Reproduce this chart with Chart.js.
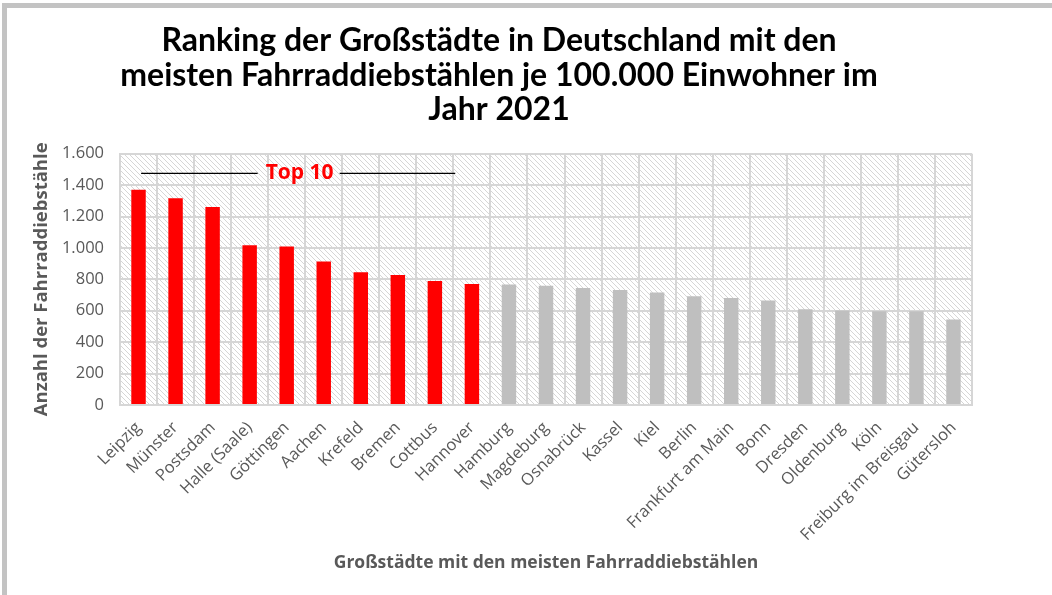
<!DOCTYPE html>
<html>
<head>
<meta charset="utf-8">
<script src="https://cdn.jsdelivr.net/npm/chart.js@4"></script>
<style>
  html, body { margin: 0; padding: 0; background: #fff; }
  #wrap { position: relative; width: 1052px; height: 595px; overflow: hidden; }
  #frame { position: absolute; left: 2px; top: 3px; width: 1100px; height: 587px; border: 5px solid #c3c3c3; border-right: none; box-sizing: content-box; }
  canvas { position: absolute; left: 0; top: 0; }
</style>
</head>
<body>
<div id="wrap">
  <div id="frame"></div>
  <canvas id="chart" width="1052" height="595"></canvas>
</div>
<script>
const cities = ["Leipzig", "Münster", "Postsdam", "Halle (Saale)", "Göttingen", "Aachen", "Krefeld", "Bremen", "Cottbus", "Hannover",
  "Hamburg", "Magdeburg", "Osnabrück", "Kassel", "Kiel", "Berlin", "Frankfurt am Main", "Bonn", "Dresden", "Oldenburg",
  "Köln", "Freiburg im Breisgau", "Gütersloh"];
const thefts = [1371, 1316, 1261, 1017, 1010, 913, 846, 827, 789, 770,
  768, 759, 745, 732, 717, 692, 682, 665, 610, 601,
  597, 597, 544];
const topCount = 10;
const yTicks = [0, 200, 400, 600, 800, 1000, 1200, 1400, 1600];
const titleLines = ["Ranking der Großstädte in Deutschland mit den", "meisten Fahrraddiebstählen je 100.000 Einwohner im", "Jahr 2021"];

const barColors = cities.map((c, i) => (i < topCount ? "#ff0000" : "#bfbfbf"));

function makeHatch() {
  const c = document.createElement("canvas");
  c.width = 5; c.height = 5;
  const g = c.getContext("2d");
  g.fillStyle = "#ffffff";
  g.fillRect(0, 0, 5, 5);
  g.strokeStyle = "#d6d6d6";
  g.lineWidth = 1;
  g.beginPath();
  g.moveTo(-1, -1); g.lineTo(6, 6);
  g.moveTo(-1, 4); g.lineTo(1, 6);
  g.moveTo(4, -1); g.lineTo(6, 1);
  g.stroke();
  return g.createPattern(c, "repeat");
}

const hatchPlugin = {
  id: "hatch",
  beforeDraw(chart) {
    const { ctx, chartArea: a } = chart;
    ctx.save();
    ctx.fillStyle = makeHatch();
    ctx.fillRect(a.left, a.top, a.right - a.left, a.bottom - a.top);
    ctx.restore();
  },
};

const topTenPlugin = {
  id: "topTen",
  afterDatasetsDraw(chart) {
    const { ctx } = chart;
    const x = chart.scales.x, y = chart.scales.y;
    const yy = y.getPixelForValue(1475);
    const cx = x.getPixelForValue(4.35);
    const x0 = x.getPixelForValue(0.07);
    const x1 = x.getPixelForValue(8.55);
    ctx.save();
    ctx.font = "bold 21px 'Open Sans'";
    ctx.fillStyle = "#ff0000";
    ctx.textAlign = "center";
    ctx.textBaseline = "middle";
    ctx.fillText("Top 10", cx, yy);
    ctx.strokeStyle = "#000";
    ctx.lineWidth = 1.2;
    ctx.beginPath();
    ctx.moveTo(x0, yy); ctx.lineTo(cx - 42, yy);
    ctx.moveTo(cx + 40, yy); ctx.lineTo(x1, yy);
    ctx.stroke();
    ctx.restore();
  },
};

new Chart(document.getElementById("chart"), {
  type: "bar",
  data: {
    labels: cities,
    datasets: [{
      label: "Fahrraddiebstähle je 100.000 Einwohner",
      data: thefts,
      backgroundColor: barColors,
      barPercentage: 0.78,
      categoryPercentage: 0.5,
    }],
  },
  options: {
    responsive: false,
    animation: false,
    layout: { padding: { left: 26, right: 80, top: 10, bottom: 10 } },
    plugins: {
      legend: { display: false },
      tooltip: { enabled: false },
      title: {
        display: true,
        text: titleLines,
        color: "#000",
        font: { family: "Lato", size: 32, weight: "bold", lineHeight: 1.07 },
        padding: { top: 14, bottom: 27 },
      },
    },
    scales: {
      x: {
        grid: { color: "#d6d6d6", lineWidth: 2, drawTicks: false, offset: true },
        border: { color: "#d6d6d6", width: 2 },
        ticks: {
          color: "#595959",
          font: { family: "Open Sans", size: 16.5 },
          minRotation: 45, maxRotation: 45,
          autoSkip: false,
          padding: 13,
        },
        title: {
          display: true,
          text: "Großstädte mit den meisten Fahrraddiebstählen",
          color: "#595959",
          font: { family: "Open Sans", size: 17.5, weight: "bold" },
          padding: { top: 0, bottom: 11.5 },
        },
        afterFit(scale) { scale.height = 180; },
      },
      y: {
        min: 0, max: 1600,
        afterBuildTicks(scale) { scale.ticks = yTicks.map(v => ({ value: v })); },
        grid: { color: "#d6d6d6", lineWidth: 2, drawTicks: false },
        border: { color: "#d6d6d6", width: 2 },
        ticks: {
          color: "#595959",
          font: { family: "Open Sans", size: 16.5 },
          padding: 16,
          callback: v => v.toLocaleString("de-DE"),
        },
        title: {
          display: true,
          text: "Anzahl der Fahrraddiebstähle",
          color: "#595959",
          font: { family: "Open Sans", size: 18.5, weight: "bold" },
          padding: { top: 5, bottom: 0 },
        },
        afterFit(scale) { scale.width = 94; },
      },
    },
  },
  plugins: [hatchPlugin, topTenPlugin],
});
</script>
</body>
</html>
